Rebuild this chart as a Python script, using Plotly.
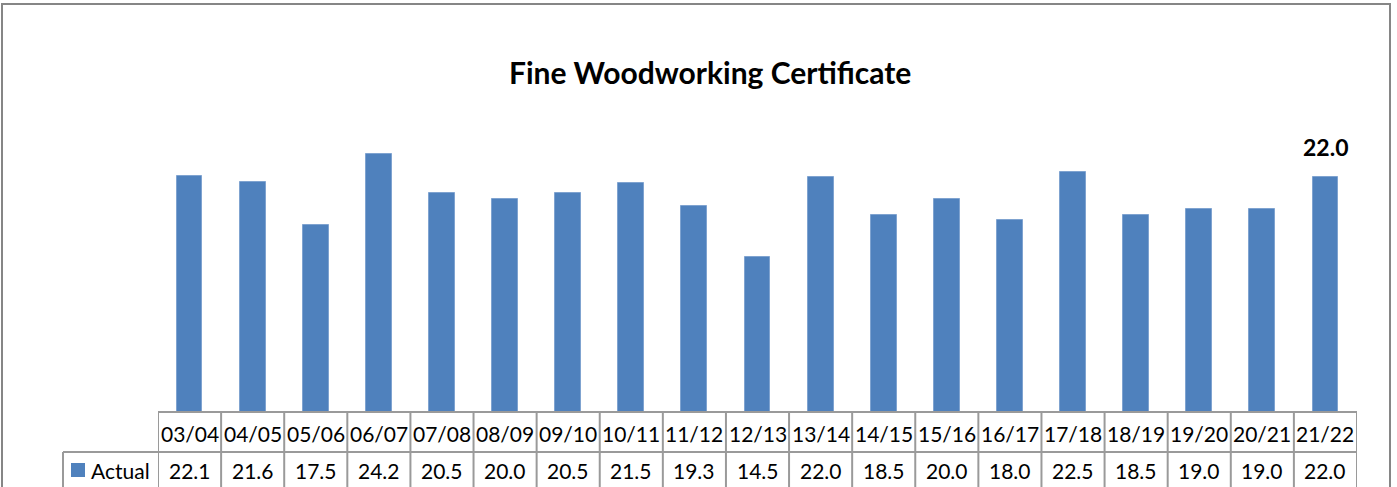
import plotly.graph_objects as go

# Academic years and the actual figures for each
years = ["03/04", "04/05", "05/06", "06/07", "07/08", "08/09", "09/10", "10/11",
         "11/12", "12/13", "13/14", "14/15", "15/16", "16/17", "17/18", "18/19",
         "19/20", "20/21", "21/22"]
actual = [22.1, 21.6, 17.5, 24.2, 20.5, 20.0, 20.5, 21.5, 19.3, 14.5,
          22.0, 18.5, 20.0, 18.0, 22.5, 18.5, 19.0, 19.0, 22.0]
series_name = "Actual"
title = "Fine Woodworking Certificate"

W, H = 1397, 487
FONT = "Lato"
BLUE = "#4F81BD"
GRID = "#9A9A9A"


def px(x):
    return x / W


def py(y):
    return 1 - y / H


n = len(years)
fig = go.Figure()
fig.add_trace(go.Bar(
    x=years, y=actual, width=0.41,
    marker=dict(color=BLUE, line=dict(color="#7FA3D0", width=1)),
    showlegend=False, hoverinfo="x+y",
))

# Value label above the latest year
fig.add_annotation(x=years[-1], y=actual[-1], xref="x", yref="y",
                   text=f"<b>{actual[-1]:.1f}</b>", showarrow=False,
                   yanchor="bottom", yshift=14,
                   font=dict(family=FONT, size=23, color="black"))

fig.add_annotation(x=px(710), y=py(72), xref="paper", yref="paper",
                   text=f"<b>{title}</b>", showarrow=False,
                   xanchor="center", yanchor="middle",
                   font=dict(family=FONT, size=30, color="black"))

shapes = []
# outer chart frame
shapes.append(dict(type="rect", xref="paper", yref="paper",
                   x0=px(2), x1=px(1390), y0=py(4), y1=py(520),
                   line=dict(color="#868686", width=2), fillcolor="rgba(0,0,0,0)"))

# data table grid
for i in range(n + 1):
    shapes.append(dict(type="line", xref="x", yref="paper",
                       x0=i - 0.5, x1=i - 0.5, y0=py(412), y1=py(520),
                       line=dict(color=GRID, width=2)))
shapes.append(dict(type="line", xref="x", yref="paper", x0=-0.5, x1=n - 0.5,
                   y0=py(412), y1=py(412), line=dict(color=GRID, width=2)))
shapes.append(dict(type="line", xref="x", yref="paper", x0=-0.5, x1=n - 0.5,
                   y0=py(452), y1=py(452), line=dict(color=GRID, width=2)))
shapes.append(dict(type="line", xref="paper", yref="paper", x0=px(63), x1=px(158),
                   y0=py(452), y1=py(452), line=dict(color=GRID, width=2)))
shapes.append(dict(type="line", xref="paper", yref="paper", x0=px(63), x1=px(63),
                   y0=py(452), y1=py(520), line=dict(color=GRID, width=2)))
# legend key
shapes.append(dict(type="rect", xref="paper", yref="paper",
                   x0=px(71), x1=px(85), y0=py(463), y1=py(477),
                   line=dict(width=0), fillcolor=BLUE))

for yr, v in zip(years, actual):
    fig.add_annotation(x=yr, y=py(433), xref="x", yref="paper", text=yr,
                       showarrow=False, yanchor="middle",
                       font=dict(family=FONT, size=21, color="black"))
    fig.add_annotation(x=yr, y=py(470), xref="x", yref="paper", text=f"{v:.1f}",
                       showarrow=False, yanchor="middle",
                       font=dict(family=FONT, size=21, color="black"))
fig.add_annotation(x=px(89), y=py(470), xref="paper", yref="paper", text=series_name,
                   xanchor="left", yanchor="middle", showarrow=False,
                   font=dict(family=FONT, size=21, color="black"))

fig.update_layout(
    width=W, height=H, margin=dict(l=0, r=0, t=0, b=0),
    paper_bgcolor="white", plot_bgcolor="white",
    shapes=shapes,
    xaxis=dict(domain=[px(158), px(1357)], range=[-0.5, n - 0.5], visible=False),
    yaxis=dict(domain=[py(412), py(92)], range=[0, 30], visible=False),
    bargap=0,
)

fig.write_html("out.html")
